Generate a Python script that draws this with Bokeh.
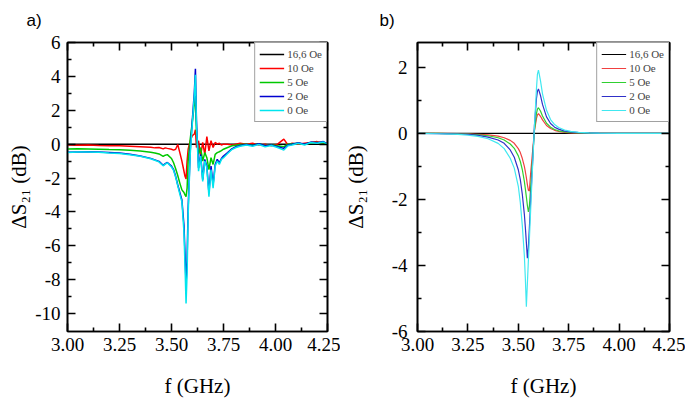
from bokeh.plotting import figure
from bokeh.layouts import row
from bokeh.models import (FixedTicker, PrintfTickFormatter, LinearAxis, Range1d,
                          Legend, LegendItem, CustomLabelingPolicy)
from bokeh.embed import file_html
from bokeh.resources import INLINE

# ---------------- data: panel a (measured) ----------------
freq_a = [3.00, 3.05, 3.10, 3.15, 3.20, 3.25, 3.30, 3.35, 3.40, 3.42,
          3.44, 3.46, 3.47, 3.48, 3.50, 3.51, 3.52, 3.53, 3.54, 3.55,
          3.56, 3.565, 3.57, 3.575, 3.58, 3.59, 3.60, 3.61, 3.615, 3.62,
          3.63, 3.64, 3.65, 3.66, 3.67, 3.68, 3.69, 3.70, 3.71, 3.72,
          3.73, 3.74, 3.75, 3.77, 3.79, 3.81, 3.83, 3.86, 3.89, 3.92,
          3.95, 3.98, 4.01, 4.04, 4.06, 4.08, 4.11, 4.14, 4.17, 4.20,
          4.23, 4.25]

oe166_a = [0.0] * 62

oe10_a = [-0.05, -0.06, -0.05, -0.08, -0.10, -0.10, -0.12, -0.15, -0.18, -0.22,
          -0.20, -0.28, -0.22, -0.25, -0.30, -0.35, -0.30, -0.02, -0.50, -1.00,
          -1.60, -1.90, -2.05, -1.00, -0.30, 0.20, 0.50, 0.60, 0.85, -0.20,
          0.20, -0.70, 0.10, -0.60, 0.45, -0.40, 0.20, -0.20, 0.10, 0.00,
          0.05, -0.05, 0.00, 0.00, -0.05, 0.00, 0.05, 0.00, 0.05, -0.05,
          0.00, -0.10, 0.00, 0.30, -0.05, 0.05, 0.00, 0.05, 0.10, 0.15,
          0.05, 0.05]

oe5_a = [-0.28, -0.27, -0.28, -0.30, -0.32, -0.33, -0.36, -0.41, -0.48, -0.52,
         -0.58, -0.72, -0.65, -0.62, -0.85, -1.10, -1.45, -1.85, -2.30, -2.70,
         -2.85, -3.00, -3.10, -2.60, -1.00, 0.30, 1.30, 2.40, 2.90, 0.60,
         -0.60, -0.20, -1.00, -0.50, -0.80, -1.50, -0.80, -1.20, -0.60, -0.50,
         -0.45, -0.38, -0.30, -0.20, -0.10, -0.06, -0.02, 0.00, -0.05, 0.02,
         -0.08, -0.03, -0.10, -0.15, 0.00, 0.02, 0.05, 0.00, 0.08, 0.10,
         0.06, 0.02]

oe2_a = [-0.48, -0.46, -0.45, -0.47, -0.50, -0.53, -0.60, -0.70, -0.84, -0.93,
         -1.02, -1.25, -1.15, -1.08, -1.30, -1.50, -1.90, -2.40, -2.85, -3.30,
         -4.80, -6.50, -8.30, -6.80, -3.80, -0.40, 1.40, 3.10, 4.45, 1.40,
         -1.40, -0.60, -2.10, -0.90, -1.30, -2.90, -1.30, -2.40, -1.20, -0.90,
         -1.10, -0.85, -0.70, -0.50, -0.28, -0.15, -0.08, -0.02, -0.08, 0.02,
         -0.10, -0.05, -0.15, -0.25, -0.05, 0.00, 0.08, 0.00, 0.12, 0.08,
         0.15, 0.02]

oe0_a = [-0.50, -0.47, -0.46, -0.48, -0.52, -0.55, -0.62, -0.72, -0.86, -0.95,
         -1.05, -1.28, -1.18, -1.10, -1.35, -1.55, -1.95, -2.45, -2.95, -3.40,
         -5.20, -7.20, -9.40, -7.60, -4.20, -0.60, 1.20, 2.90, 4.10, 1.20,
         -1.60, -0.70, -2.20, -1.00, -1.40, -3.10, -1.50, -2.60, -1.30, -1.00,
         -1.20, -0.90, -0.80, -0.55, -0.32, -0.20, -0.12, -0.05, -0.12, -0.02,
         -0.15, -0.08, -0.20, -0.35, -0.10, -0.05, 0.05, -0.05, 0.10, 0.05,
         0.12, 0.00]

# ---------------- data: panel b (simulated) ----------------
freq_b = [3.00, 3.10, 3.20, 3.25, 3.30, 3.35, 3.40, 3.43, 3.46, 3.48,
          3.50, 3.51, 3.52, 3.53, 3.535, 3.54, 3.545, 3.55, 3.555, 3.56,
          3.57, 3.58, 3.59, 3.595, 3.60, 3.61, 3.62, 3.64, 3.66, 3.68,
          3.70, 3.73, 3.76, 3.80, 3.85, 3.90, 4.00, 4.10, 4.25]

oe166_b = [0.0] * 39

oe10_b = [0, 0, -0.005, -0.01, -0.025, -0.045, -0.08, -0.13, -0.21, -0.30,
          -0.46, -0.58, -0.76, -1.0, -1.16, -1.34, -1.55, -1.72, -1.74, -1.30,
          -0.60, 0.08, 0.45, 0.56, 0.60, 0.52, 0.41, 0.24, 0.15, 0.095,
          0.065, 0.035, 0.02, 0.012, 0.007, 0.003, 0, 0, 0]

oe5_b = [0, 0, -0.01, -0.02, -0.04, -0.07, -0.13, -0.20, -0.32, -0.45,
         -0.68, -0.85, -1.10, -1.45, -1.68, -1.92, -2.18, -2.38, -2.20, -1.75,
         -0.85, 0.10, 0.60, 0.74, 0.78, 0.68, 0.53, 0.31, 0.19, 0.12,
         0.08, 0.045, 0.03, 0.015, 0.01, 0.005, 0, 0, 0]

oe2_b = [0, -0.005, -0.02, -0.03, -0.06, -0.11, -0.20, -0.30, -0.50, -0.72,
         -1.10, -1.40, -1.85, -2.45, -2.85, -3.30, -3.78, -3.45, -2.85, -2.20,
         -1.00, 0.25, 1.05, 1.28, 1.35, 1.15, 0.88, 0.50, 0.30, 0.19,
         0.13, 0.07, 0.045, 0.025, 0.015, 0.008, 0.003, 0, 0]

oe0_b = [0, -0.01, -0.03, -0.05, -0.09, -0.16, -0.30, -0.46, -0.75, -1.05,
         -1.60, -2.10, -2.80, -3.70, -4.40, -5.25, -4.55, -3.85, -3.20, -2.50,
         -1.10, 0.20, 1.35, 1.80, 1.92, 1.60, 1.20, 0.70, 0.42, 0.27,
         0.18, 0.10, 0.06, 0.035, 0.02, 0.01, 0.005, 0, 0]

labels = ["16,6 Oe", "10 Oe", "5 Oe", "2 Oe", "0 Oe"]
x_ticks = [3.00, 3.25, 3.50, 3.75, 4.00, 4.25]
x_minor = [3.125, 3.375, 3.625, 3.875, 4.125]
ya_ticks = [6, 4, 2, 0, -2, -4, -6, -8, -10]
ya_minor = [5, 3, 1, -1, -3, -5, -7, -9]
yb_ticks = [2, 0, -2, -4, -6]
yb_minor = [1, -1, -3, -5]

colors_a = ["#000000", "#ff0000", "#00c800", "#0000d0", "#00e5ee"]
colors_b = ["#000000", "#f04040", "#30d030", "#3030c8", "#40e8f0"]

SERIF = "'Liberation Serif', 'Times New Roman', Times, serif"
SANS = "'Liberation Sans', Arial, sans-serif"

HIDE = CustomLabelingPolicy(code="""
const all = Array.from(indices)
for (const i of all) { indices.unset(i) }
return indices
""")


def style_axis(ax, ticks, minor, fmt, show_labels):
    ax.ticker = FixedTicker(ticks=ticks, minor_ticks=minor)
    if fmt:
        ax.formatter = PrintfTickFormatter(format=fmt)
    ax.axis_line_color = "black"
    ax.axis_line_width = 1.6
    ax.major_tick_in = 8
    ax.major_tick_out = 0
    ax.minor_tick_in = 4
    ax.minor_tick_out = 0
    ax.major_tick_line_width = 1.6
    ax.minor_tick_line_width = 1.6
    ax.major_label_text_font = SERIF
    ax.major_label_text_color = "black"
    ax.axis_label_text_font = SERIF
    ax.axis_label_text_font_style = "normal"
    ax.axis_label_text_font_size = "21px"
    ax.axis_label_text_color = "black"
    if show_labels:
        ax.major_label_text_font_size = "19px"
    else:
        ax.major_label_text_font_size = "1px"
        ax.major_label_standoff = 0
        ax.major_label_policy = HIDE


def make_panel(freq, series, colors, ylo, yhi, yticks, yminor, w, h,
               bl, br, bt, bb, ylab_standoff, ytick_standoff,
               tag, tag_offset, lw):
    p = figure(width=w, height=h,
               x_range=Range1d(3.0, 4.25), y_range=Range1d(ylo, yhi),
               output_backend="svg", toolbar_location=None,
               min_border_left=bl, min_border_right=br,
               min_border_top=bt, min_border_bottom=bb,
               title=tag)
    p.title.align = "left"
    p.title.offset = tag_offset
    p.title.standoff = 17
    p.title.text_font = SANS
    p.title.text_font_style = "normal"
    p.title.text_font_size = "17px"
    p.title.text_color = "black"

    p.grid.visible = False
    p.outline_line_color = "black"
    p.outline_line_width = 1.6
    p.background_fill_color = "white"
    p.border_fill_color = "white"

    style_axis(p.xaxis[0], x_ticks, x_minor, "%.2f", True)
    p.xaxis[0].axis_label = "f (GHz)"
    p.xaxis[0].major_label_standoff = 6
    p.xaxis[0].axis_label_standoff = 20
    style_axis(p.yaxis[0], yticks, yminor, "%d", True)
    p.yaxis[0].axis_label = "ΔS₂₁ (dB)"
    p.yaxis[0].major_label_standoff = ytick_standoff
    p.yaxis[0].axis_label_standoff = ylab_standoff

    top = LinearAxis()
    style_axis(top, x_ticks, x_minor, None, False)
    p.add_layout(top, "above")
    right = LinearAxis()
    style_axis(right, yticks, yminor, None, False)
    p.add_layout(right, "right")

    items = []
    for vals, col, lab in zip(series, colors, labels):
        r = p.line(freq, vals, line_color=col, line_width=lw)
        items.append(LegendItem(label=lab, renderers=[r]))

    leg = Legend(items=items, location="top_right", margin=0, padding=4,
                 spacing=0, glyph_width=25, glyph_height=14, label_height=14,
                 label_standoff=3, label_text_font=SERIF,
                 label_text_font_size="11px", border_line_color="#444444",
                 border_line_width=1, background_fill_color="white",
                 background_fill_alpha=1.0)
    p.add_layout(leg)
    return p


pa = make_panel(freq_a, [oe166_a, oe10_a, oe5_a, oe2_a, oe0_a], colors_a,
                -11.06, 6.0, ya_ticks, ya_minor, 340, 400,
                67, 13, 41, 68, 1, 7, "a)", -41, 1.5)
pb = make_panel(freq_b, [oe166_b, oe10_b, oe5_b, oe2_b, oe0_b], colors_b,
                -6.0, 2.755, yb_ticks, yb_minor, 345, 400,
                70, 16, 41, 69, 21, 10, "b)", -38, 1.2)

layout = row(pa, pb)
open("out.html", "w").write(file_html(layout, INLINE))
